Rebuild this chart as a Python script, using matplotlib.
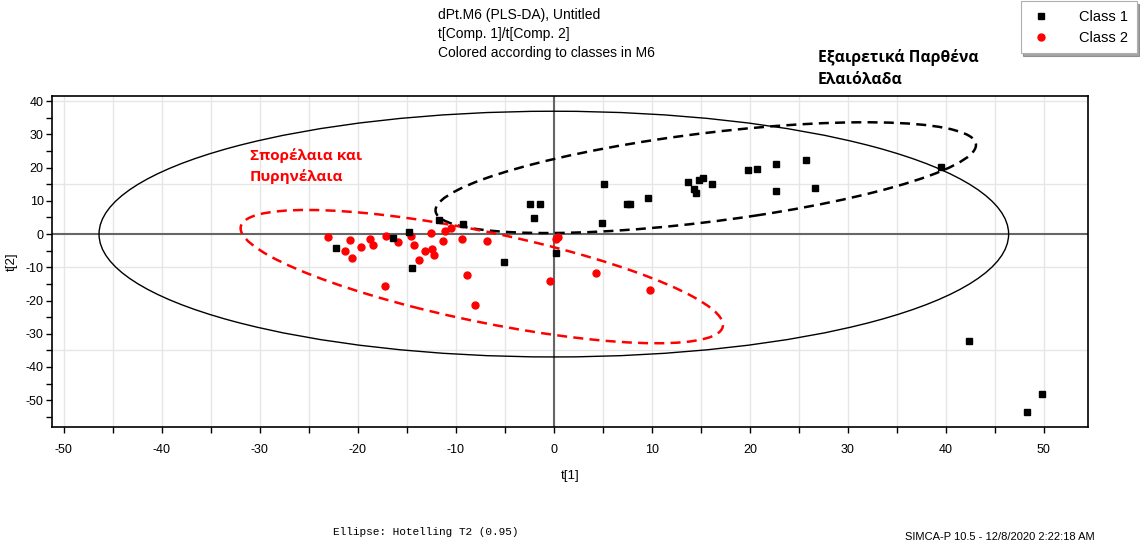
import numpy as np
import matplotlib
matplotlib.use("Agg")
import matplotlib.pyplot as plt
from matplotlib.patches import Ellipse
from matplotlib.ticker import MultipleLocator
from matplotlib.lines import Line2D

plt.rcParams['font.family'] = ['Liberation Sans', 'DejaVu Sans']
plt.rcParams['axes.unicode_minus'] = False

# scores, class 1 (black squares)
class1_t1 = [-22.2, -16.4, -14.8, -14.5, -11.7, -9.3, -5.1, -2.45, -1.4, -2.0, 0.2, 4.9,
             5.1, 7.5, 7.8, 9.6, 13.7, 14.3, 14.5, 14.8, 15.2, 16.1, 19.8, 20.7, 22.7,
             22.7, 25.7, 26.6, 39.5, 42.4, 48.3, 49.8]
class1_t2 = [-4.3, -1.3, 0.5, -10.3, 4.1, 3.0, -8.5, 9.0, 9.0, 4.7, -5.8, 3.2,
             15.0, 9.0, 9.2, 10.8, 15.8, 13.5, 12.3, 16.2, 16.8, 15.1, 19.2, 19.5, 21.0,
             12.9, 22.2, 13.8, 20.1, -32.3, -53.7, -48.3]

# scores, class 2 (red circles)
class2_t1 = [-23.0, -20.8, -21.3, -20.6, -19.7, -18.8, -18.4, -17.1, -17.2, -15.9, -14.6,
             -14.3, -13.8, -13.1, -12.4, -12.2, -12.5, -11.3, -11.1, -10.5, -9.4, -8.9,
             -8.0, -6.8, 0.45, 0.2, -0.4, 4.35, 9.8]
class2_t2 = [-0.8, -1.7, -5.0, -7.3, -3.9, -1.4, -3.2, -0.5, -15.7, -2.4, -0.5,
             -3.2, -7.7, -5.0, -4.4, -6.2, 0.2, -2.0, 1.0, 1.7, -1.6, -12.3,
             -21.4, -2.0, -1.0, -1.4, -14.2, -11.8, -16.9]

# ellipses: center x, center y, semi axis a, semi axis b, angle (deg)
hotelling = (0.0, 0.0, 46.4, 37.0, 0.0)
class1_ell = (15.5, 17.0, 29.7, 12.5, 24.2)
class2_ell = (-7.35, -12.8, 29.6, 11.5, -37.1)

fig = plt.figure(figsize=(11.4, 5.41), dpi=100)
ax = fig.add_axes([0.0456, 0.2107, 0.9088, 0.6119])

ax.set_xlim(-51.2, 54.5)
ax.set_ylim(-58.1, 41.6)

# grid
for gx in np.arange(-50, 55, 5):
    ax.axvline(gx, color='#e6e6e6', lw=1, zorder=0)
for gy in [40, 15, -10, -35]:
    ax.axhline(gy, color='#e6e6e6', lw=1, zorder=0)
ax.axhline(0, color='#666666', lw=1.5, zorder=1)
ax.axvline(0, color='#666666', lw=1.5, zorder=1)

def draw_ellipse(p, **kw):
    cx, cy, a, b, ang = p
    ax.add_patch(Ellipse((cx, cy), 2 * a, 2 * b, angle=ang, fill=False, **kw))

draw_ellipse(hotelling, edgecolor='black', lw=1.0, zorder=2)
draw_ellipse(class1_ell, edgecolor='black', lw=1.8, linestyle=(0, (4, 2.5)), zorder=2)
draw_ellipse(class2_ell, edgecolor='red', lw=1.8, linestyle=(0, (4, 2.5)), zorder=2)

ax.plot(class1_t1, class1_t2, 's', color='black', ms=5, ls='none', zorder=4)
ax.plot(class2_t1, class2_t2, 'o', color='red', ms=5, ls='none', zorder=3)

ax.xaxis.set_major_locator(MultipleLocator(10))
ax.xaxis.set_minor_locator(MultipleLocator(5))
ax.yaxis.set_major_locator(MultipleLocator(10))
ax.yaxis.set_minor_locator(MultipleLocator(5))
ax.tick_params(which='both', direction='out', labelsize=9, length=4, width=1)
ax.tick_params(axis='x', pad=8)
ax.tick_params(axis='y', pad=2)
for s in ax.spines.values():
    s.set_linewidth(1.2)

ax.set_xlabel('t[1]', fontsize=9.5, labelpad=10)
ax.set_ylabel('t[2]', fontsize=9.5, labelpad=6)

# titles
fig.text(438 / 1140, 1 - 15 / 541, 'dPt.M6 (PLS-DA), Untitled', fontsize=10, va='center')
fig.text(438 / 1140, 1 - 34 / 541, 't[Comp. 1]/t[Comp. 2]', fontsize=10, va='center')
fig.text(438 / 1140, 1 - 53 / 541, 'Colored according to classes in M6', fontsize=10, va='center')

# annotations
greek = ['Open Sans', 'DejaVu Sans']
fig.text(818 / 1140, 1 - 57 / 541, 'Εξαιρετικά Παρθένα', fontsize=11.3, fontweight='bold',
         family=greek, va='center')
fig.text(818 / 1140, 1 - 80 / 541, 'Ελαιόλαδα', fontsize=11.3, fontweight='bold',
         family=greek, va='center')
fig.text(250 / 1140, 1 - 156 / 541, 'Σπορέλαια και', fontsize=11, fontweight='bold', color='red',
         family=greek, va='center')
fig.text(250 / 1140, 1 - 177 / 541, 'Πυρηνέλαια', fontsize=11, fontweight='bold', color='red',
         family=greek, va='center')

# footer
fig.text(333 / 1140, 1 - 532 / 541, 'Ellipse: Hotelling T2 (0.95)', fontsize=8,
         family=['Liberation Mono', 'DejaVu Sans Mono'], va='center')
fig.text(1095 / 1140, 1 - 537 / 541, 'SIMCA-P 10.5 - 12/8/2020 2:22:18 AM', fontsize=8,
         family=['Liberation Sans Narrow', 'Liberation Sans'], ha='right', va='center')

# legend
handles = [Line2D([], [], marker='s', color='black', ls='none', ms=5),
           Line2D([], [], marker='o', color='red', ls='none', ms=5)]
leg = fig.legend(handles, ['Class 1', 'Class 2'], loc='upper right',
                 bbox_to_anchor=(1.0035, 1.011), fontsize=10.5, frameon=True,
                 fancybox=False, shadow=True, handletextpad=1.8, borderpad=0.6,
                 labelspacing=0.45, handlelength=1.6)
leg.get_frame().set_edgecolor('#b0b0b0')
leg.get_frame().set_linewidth(0.8)

fig.savefig('out.png', dpi=100)
